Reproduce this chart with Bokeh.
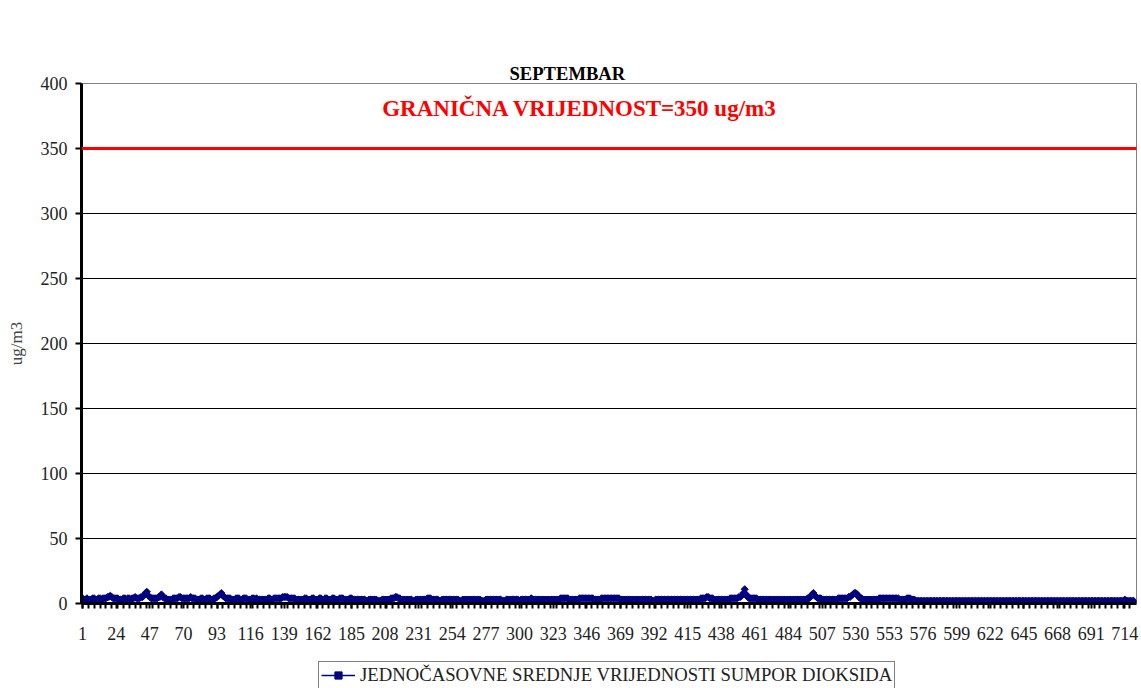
from bokeh.plotting import figure
from bokeh.models import FixedTicker, Span, Label, Legend, LegendItem, Range1d, Title
from bokeh.layouts import column
from bokeh.embed import file_html
from bokeh.resources import INLINE
import math

title_text = "SEPTEMBAR"
y_label = "ug/m3"
limit_value = 350
limit_text = "GRANIČNA VRIJEDNOST=350 ug/m3"
series_name = "JEDNOČASOVNE SREDNJE VRIJEDNOSTI SUMPOR DIOKSIDA"
y_ticks = [0, 50, 100, 150, 200, 250, 300, 350, 400]
x_labels = [1, 24, 47, 70, 93, 116, 139, 162, 185, 208, 231, 254, 277, 300, 323,
            346, 369, 392, 415, 438, 461, 484, 507, 530, 553, 576, 599, 622, 645,
            668, 691, 714]

# hourly SO2 means (ug/m3), 30 days x 24 hours
so2 = [
    4, 3, 3, 4, 3, 3, 3, 4, 4, 3, 3, 4, 4, 3, 4, 4, 4, 5, 5, 6, 5, 4, 4, 4,
    4, 3, 3, 3, 4, 4, 3, 4, 4, 3, 4, 4, 5, 4, 4, 4, 5, 5, 6, 8, 9, 6, 5, 4,
    4, 4, 4, 4, 5, 5, 7, 5, 4, 4, 3, 3, 3, 3, 4, 4, 4, 4, 5, 5, 4, 4, 4, 4,
    4, 4, 5, 4, 4, 4, 3, 3, 3, 4, 4, 3, 3, 4, 4, 4, 3, 3, 4, 4, 5, 6, 7, 8,
    6, 5, 4, 4, 4, 4, 3, 3, 3, 4, 4, 4, 3, 3, 4, 4, 4, 3, 3, 3, 4, 4, 3, 4,
    3, 3, 3, 3, 3, 3, 3, 4, 4, 3, 3, 4, 4, 4, 4, 4, 4, 5, 5, 5, 5, 4, 4, 4,
    4, 4, 3, 3, 3, 3, 3, 3, 4, 4, 3, 3, 3, 4, 4, 3, 3, 3, 4, 4, 3, 3, 4, 4,
    3, 3, 3, 4, 4, 3, 3, 3, 4, 4, 4, 3, 3, 3, 3, 4, 4, 3, 3, 3, 3, 3, 3, 3,
    3, 3, 2, 2, 3, 3, 3, 3, 3, 3, 2, 2, 2, 3, 3, 3, 3, 3, 3, 4, 4, 4, 5, 5,
    4, 4, 3, 3, 3, 3, 3, 3, 3, 3, 2, 2, 3, 3, 3, 3, 3, 3, 3, 3, 4, 4, 4, 3,
    3, 3, 3, 3, 2, 2, 3, 3, 3, 3, 3, 3, 3, 3, 3, 3, 3, 3, 2, 2, 3, 3, 3, 3,
    3, 3, 3, 3, 3, 3, 3, 3, 3, 2, 2, 2, 3, 3, 3, 3, 3, 3, 3, 3, 3, 3, 3, 2,
    2, 2, 3, 3, 3, 3, 3, 3, 3, 3, 3, 2, 3, 3, 3, 3, 3, 3, 3, 4, 3, 3, 3, 3,
    3, 3, 3, 3, 3, 3, 3, 3, 3, 3, 3, 3, 3, 3, 3, 4, 4, 4, 4, 4, 4, 3, 3, 3,
    3, 3, 3, 3, 4, 4, 4, 4, 4, 4, 4, 4, 4, 4, 3, 3, 3, 3, 3, 4, 4, 4, 4, 4,
    4, 4, 4, 4, 4, 4, 4, 4, 3, 3, 3, 3, 3, 3, 3, 3, 3, 3, 3, 3, 3, 3, 3, 3,
    3, 3, 3, 3, 3, 3, 2, 2, 3, 3, 3, 3, 3, 3, 3, 3, 3, 3, 3, 3, 3, 3, 3, 3,
    3, 3, 3, 3, 3, 3, 3, 3, 3, 3, 3, 3, 3, 3, 3, 4, 4, 4, 4, 5, 5, 4, 4, 4,
    3, 3, 3, 3, 3, 3, 3, 3, 3, 3, 3, 4, 4, 4, 4, 4, 4, 5, 5, 6, 8, 11, 7, 5,
    4, 4, 4, 4, 4, 4, 3, 3, 3, 3, 3, 3, 3, 3, 3, 3, 3, 3, 3, 3, 3, 3, 3, 3,
    3, 3, 3, 3, 3, 3, 3, 3, 3, 3, 3, 3, 3, 3, 3, 3, 4, 4, 5, 7, 8, 6, 5, 4,
    4, 4, 3, 3, 3, 3, 3, 3, 3, 3, 3, 3, 3, 4, 4, 4, 4, 4, 4, 4, 5, 5, 6, 7,
    8, 8, 7, 5, 4, 4, 3, 3, 3, 3, 3, 3, 3, 3, 3, 3, 3, 4, 4, 4, 4, 4, 4, 4,
    4, 4, 4, 4, 4, 4, 4, 3, 3, 3, 3, 3, 4, 4, 4, 3, 3, 3, 2, 2, 2, 2, 2, 2,
    2, 2, 2, 2, 2, 2, 2, 2, 2, 2, 2, 2, 2, 2, 2, 2, 2, 2, 2, 2, 2, 2, 2, 2,
    2, 2, 2, 2, 2, 2, 2, 2, 2, 2, 2, 2, 2, 2, 2, 2, 2, 2, 2, 2, 2, 2, 2, 2,
    2, 2, 2, 2, 2, 2, 2, 2, 2, 2, 2, 2, 2, 2, 2, 2, 2, 2, 2, 2, 2, 2, 2, 2,
    2, 2, 2, 2, 2, 2, 2, 2, 2, 2, 2, 2, 2, 2, 2, 2, 2, 2, 2, 2, 2, 2, 2, 2,
    2, 2, 2, 2, 2, 2, 2, 2, 2, 2, 2, 2, 2, 2, 2, 2, 2, 2, 2, 2, 2, 2, 2, 2,
    2, 2, 2, 2, 2, 2, 2, 2, 2, 2, 2, 2, 2, 2, 2, 2, 2, 3, 2, 2, 2, 2, 2, 2,
]
hours = list(range(1, len(so2) + 1))

SERIF = "Liberation Serif"
NAVY = "#000080"

p = figure(width=1141, height=655, output_backend="svg", toolbar_location=None,
           x_range=Range1d(0.3, 722), y_range=Range1d(0, 400),
           min_border_left=81, min_border_right=5, min_border_top=83,
           min_border_bottom=52)

# real title (outer), invisible spacer title next to the frame
p.title.text = title_text
p.title.text_font = SERIF
p.title.text_font_size = "18.6px"
p.title.text_font_style = "bold"
p.title.text_color = "black"
p.title.align = "left"
p.title.offset = 428
p.title.standoff = 0
p.add_layout(Title(text=".", text_font_size="30px", text_alpha=0,
                   standoff=15), "above")

r_line = p.line(hours, so2, line_color=NAVY, line_width=1.5)
r_pts = p.scatter(hours, so2, marker="square", size=5, angle=math.pi / 4,
                  fill_color=NAVY, line_color=NAVY)

limit = Span(location=limit_value, dimension="width", line_color="#ff0000",
             line_width=3)
p.add_layout(limit)

lbl = Label(x=206, y=381, text=limit_text, text_color="#ff0000",
            text_font=SERIF, text_font_size="23px",
            text_font_style="bold", text_baseline="middle")
p.add_layout(lbl)

# axes
p.yaxis.ticker = FixedTicker(ticks=y_ticks)
p.yaxis.axis_line_width = 3
p.yaxis.axis_line_color = "black"
p.yaxis.major_tick_line_color = "black"
p.yaxis.major_tick_line_width = 2
p.yaxis.major_tick_out = 6
p.yaxis.major_tick_in = 0
p.yaxis.minor_tick_line_color = None
p.yaxis.major_label_text_font = SERIF
p.yaxis.major_label_text_font_size = "18px"
p.yaxis.major_label_text_color = "#222222"
p.yaxis.major_label_standoff = 8
p.yaxis.axis_label = y_label
p.yaxis.axis_label_text_font = SERIF
p.yaxis.axis_label_text_font_size = "17px"
p.yaxis.axis_label_text_font_style = "normal"
p.yaxis.axis_label_standoff = 12

p.xaxis.ticker = FixedTicker(ticks=x_labels, minor_ticks=list(range(1, 721, 4)))
p.xaxis.axis_line_width = 3
p.xaxis.axis_line_color = "black"
p.xaxis.major_tick_line_color = "black"
p.xaxis.major_tick_line_width = 2
p.xaxis.major_tick_out = 5
p.xaxis.major_tick_in = 0
p.xaxis.minor_tick_line_color = "black"
p.xaxis.minor_tick_line_width = 2
p.xaxis.minor_tick_out = 5
p.xaxis.minor_tick_in = 0
p.xaxis.major_label_text_font = SERIF
p.xaxis.major_label_text_font_size = "18px"
p.xaxis.major_label_text_color = "#222222"
p.xaxis.major_label_standoff = 18

p.xgrid.grid_line_color = None
p.ygrid.ticker = FixedTicker(ticks=y_ticks)
p.ygrid.grid_line_color = "black"
p.ygrid.grid_line_width = 1

p.outline_line_color = "#808080"
p.outline_line_width = 1
p.background_fill_color = "white"
p.border_fill_color = "white"

# legend strip below the chart (its own small canvas, no axes)
p2 = figure(width=1141, height=33, output_backend="svg", toolbar_location=None,
            x_range=p.x_range, y_range=Range1d(1000, 1001), title=None,
            x_axis_location=None, y_axis_location=None, min_border=0,
            outline_line_color=None)
p2.grid.visible = False
l_line = p2.line(hours, so2, line_color=NAVY, line_width=1.5)
l_pts = p2.scatter(hours, so2, marker="square", size=5, angle=math.pi / 4,
                   fill_color=NAVY, line_color=NAVY)

legend = Legend(items=[LegendItem(label=series_name, renderers=[l_line, l_pts])],
                location=(237, -1), orientation="horizontal",
                label_text_font=SERIF, label_text_font_size="18.7px",
                label_text_color="#222222",
                border_line_color="black", border_line_width=1,
                glyph_width=34, glyph_height=18, label_height=18,
                label_standoff=5, padding=2, margin=0,
                background_fill_alpha=1)
p2.add_layout(legend, "center")

layout = column(p, p2, spacing=0)
open("out.html", "w").write(file_html(layout, INLINE))
